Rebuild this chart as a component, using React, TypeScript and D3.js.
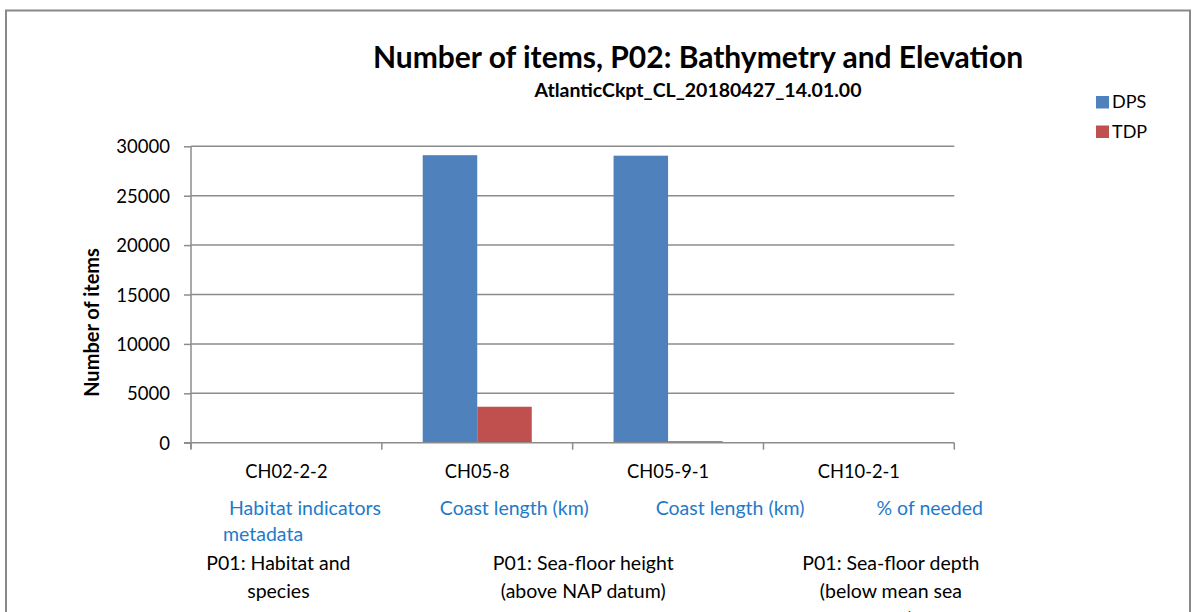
import { useEffect, useRef } from 'react';
import * as d3 from 'd3';

const categories = ['CH02-2-2', 'CH05-8', 'CH05-9-1', 'CH10-2-1'];
const seriesNames = ['DPS', 'TDP'];
const dpsValues = [0, 29100, 29050, 0];
const tdpValues = [0, 3640, 150, 0];
const yTicks = [0, 5000, 10000, 15000, 20000, 25000, 30000];
const colors = ['#4F81BD', '#C0504D'];

// second and third level of the category labels
const unitLabels = [['Habitat indicators', 'metadata'], ['Coast length (km)'], ['Coast length (km)'], ['% of needed']];
const unitOffsets = [38, 58, 83, 113];
const groupLabels = [
  { cat: 0, lines: ['P01: Habitat and', 'species'], dx: -8 },
  { cat: 1, lines: ['P01: Sea-floor height', '(above NAP datum)', 'sea-floor'], dx: 106 },
  { cat: 3, lines: ['P01: Sea-floor depth', '(below mean sea', 'level)'], dx: 32 },
];

const W = 1193;
const H = 612;
const FONT = 'Lato, "Open Sans", sans-serif';
const LABEL = 19.5;

export default function App() {
  const ref = useRef<SVGSVGElement | null>(null);

  useEffect(() => {
    if (!ref.current) return;
    const svg = d3.select(ref.current);
    svg.selectAll('*').remove();

    const left = 191;
    const right = 954.3;
    const top = 146.3;
    const bottom = 442.7;

    const x = d3.scaleBand<string>().domain(categories).range([left, right]);
    const bw = x.bandwidth() / 3.5;
    const y = d3.scaleLinear().domain([0, 30000]).range([bottom, top]);

    svg.append('rect')
      .attr('x', 6).attr('y', 10.5).attr('width', 1184).attr('height', 700)
      .attr('fill', 'white').attr('stroke', '#898989').attr('stroke-width', 2);

    svg.append('text')
      .attr('x', 698).attr('y', 68).attr('text-anchor', 'middle')
      .attr('font-family', FONT).attr('font-weight', 'bold').attr('font-size', 30)
      .text('Number of items, P02: Bathymetry and Elevation');
    svg.append('text')
      .attr('x', 698).attr('y', 97).attr('text-anchor', 'middle')
      .attr('font-family', FONT).attr('font-weight', 'bold').attr('font-size', 19.5)
      .text('AtlanticCkpt_CL_20180427_14.01.00');

    // gridlines
    svg.append('g')
      .selectAll('line')
      .data(yTicks.filter((d) => d > 0))
      .join('line')
      .attr('x1', left).attr('x2', right)
      .attr('y1', (d) => y(d)).attr('y2', (d) => y(d))
      .attr('stroke', '#8C8C8C').attr('stroke-width', 1.5);

    // bars
    const series = [dpsValues, tdpValues];
    series.forEach((vals, si) => {
      svg.append('g')
        .selectAll('rect')
        .data(vals)
        .join('rect')
        .attr('x', (_, i) => (x(categories[i]) as number) + x.bandwidth() / 2 - bw + si * bw)
        .attr('y', (d) => y(d))
        .attr('width', bw)
        .attr('height', (d) => bottom - y(d))
        .attr('fill', colors[si]);
    });

    // y axis
    const ya = svg.append('g')
      .attr('transform', `translate(${left},0)`)
      .call(d3.axisLeft(y).tickValues(yTicks).tickSize(7).tickPadding(14).tickFormat((d) => String(d)));
    ya.select('.domain').attr('stroke', '#8C8C8C').attr('stroke-width', 1.5).attr('d', `M0,${top}V${bottom + 6}`);
    ya.selectAll('.tick line').attr('stroke', '#8C8C8C').attr('stroke-width', 1.5);
    ya.selectAll('.tick text').attr('font-family', FONT).attr('font-size', 18.5).attr('fill', '#000').attr('dy', '0.36em');

    // x axis
    const xa = svg.append('g').attr('transform', `translate(0,${bottom})`);
    xa.append('line').attr('x1', left - 7).attr('x2', right).attr('stroke', '#8C8C8C').attr('stroke-width', 1.5);
    const bounds = categories.map((c) => x(c) as number).concat([right]);
    xa.selectAll('line.tk')
      .data(bounds)
      .join('line')
      .attr('class', 'tk')
      .attr('x1', (d) => d).attr('x2', (d) => d)
      .attr('y1', 0).attr('y2', 7)
      .attr('stroke', '#8C8C8C').attr('stroke-width', 1.5);

    svg.append('g')
      .selectAll('text')
      .data(categories)
      .join('text')
      .attr('x', (d) => (x(d) as number) + x.bandwidth() / 2)
      .attr('y', 478)
      .attr('text-anchor', 'middle')
      .attr('font-family', FONT).attr('font-size', 18.3)
      .text((d) => d);

    unitLabels.forEach((lines, i) => {
      const t = svg.append('text')
        .attr('font-family', FONT).attr('font-size', LABEL).attr('fill', '#1E7BCA');
      lines.forEach((ln, j) => {
        t.append('tspan')
          .attr('x', (x(categories[i]) as number) + unitOffsets[i] - (j > 0 ? 6 : 0))
          .attr('y', 515 + j * 26)
          .text(ln);
      });
    });

    groupLabels.forEach((g) => {
      const cx = (x(categories[g.cat]) as number) + x.bandwidth() / 2 + g.dx;
      const t = svg.append('text')
        .attr('font-family', FONT).attr('font-size', LABEL).attr('text-anchor', 'middle');
      g.lines.forEach((ln, j) => {
        t.append('tspan').attr('x', cx).attr('y', 570 + j * 28).text(ln);
      });
    });

    // y axis title
    svg.append('text')
      .attr('transform', `translate(99,${(top + bottom) / 2 + 28}) rotate(-90)`)
      .attr('text-anchor', 'middle')
      .attr('font-family', FONT).attr('font-weight', 'bold').attr('font-size', 20)
      .text('Number of items');

    // legend
    const lg = svg.append('g');
    seriesNames.forEach((name, i) => {
      lg.append('rect')
        .attr('x', 1096).attr('y', 96 + i * 29.5).attr('width', 13).attr('height', 12.5)
        .attr('fill', colors[i]);
      lg.append('text')
        .attr('x', 1112).attr('y', 108 + i * 29.5)
        .attr('font-family', FONT).attr('font-size', 18)
        .text(name);
    });
  }, []);

  return (
    <svg
      ref={ref}
      width={W}
      height={H}
      style={{ position: 'absolute', left: 0, top: 0, background: 'white' }}
    />
  );
}
